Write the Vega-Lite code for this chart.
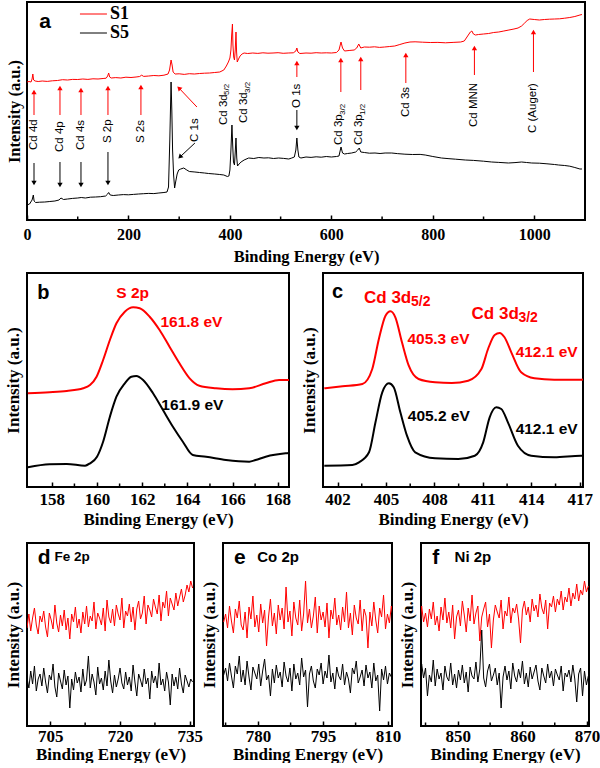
{
"$schema": "https://vega.github.io/schema/vega-lite/v6.json",
"background": "white",
"padding": {"left": 3, "top": 1, "right": 0, "bottom": 0},
"spacing": 6,
"config": {
  "view": {"stroke": "black", "strokeWidth": 2},
  "axis": {"grid": false, "domain": false, "labelFont": "Liberation Serif", "labelFontWeight": "bold", "labelFontSize": 17, "labelColor": "black", "titleFont": "Liberation Serif", "titleFontWeight": "bold", "titleFontSize": 17, "titleColor": "black", "tickColor": "black", "tickWidth": 1.5, "tickSize": -5, "labelFlush": false, "labelOverlap": false, "format": "d"},
  "axisY": {"labels": false, "ticks": false, "titlePadding": 5},
  "text": {"font": "Liberation Sans"},
  "title": {"fontSize": 1, "offset": 7}
},
"datasets": {
"aR": [{"x":0,"y":138},{"x":4,"y":138.5},{"x":8,"y":138},{"x":10,"y":141},{"x":11.5,"y":146},{"x":13,"y":140},{"x":16,"y":139},{"x":22,"y":138.5},{"x":30,"y":139},{"x":40,"y":138.6},{"x":50,"y":139.2},{"x":60,"y":139.5},{"x":70,"y":140.3},{"x":80,"y":140},{"x":90,"y":140.6},{"x":100,"y":140.5},{"x":110,"y":141},{"x":120,"y":140.6},{"x":130,"y":141.2},{"x":140,"y":141},{"x":150,"y":141.5},{"x":156,"y":141.8},{"x":159,"y":144},{"x":161,"y":147},{"x":163,"y":143},{"x":166,"y":142},{"x":175,"y":142.4},{"x":185,"y":142},{"x":195,"y":142.8},{"x":205,"y":142.5},{"x":215,"y":143},{"x":222,"y":143.5},{"x":226,"y":144.8},{"x":230,"y":143.6},{"x":240,"y":144},{"x":250,"y":144.5},{"x":260,"y":144.2},{"x":270,"y":144.8},{"x":278,"y":146},{"x":281,"y":150},{"x":284,"y":160},{"x":286,"y":155},{"x":288,"y":148},{"x":292,"y":146},{"x":300,"y":146.2},{"x":310,"y":145.6},{"x":320,"y":146.3},{"x":330,"y":146},{"x":340,"y":146.5},{"x":350,"y":146.8},{"x":360,"y":147},{"x":370,"y":147.5},{"x":380,"y":148},{"x":388,"y":150},{"x":393,"y":154},{"x":397,"y":158},{"x":400,"y":162},{"x":402,"y":170},{"x":403.5,"y":185},{"x":405,"y":196},{"x":406,"y":175},{"x":407.5,"y":163},{"x":409,"y":160},{"x":410.5,"y":170},{"x":412,"y":188},{"x":413.2,"y":168},{"x":414.5,"y":158},{"x":417,"y":161},{"x":420,"y":164},{"x":424,"y":166},{"x":428,"y":167},{"x":435,"y":166.5},{"x":445,"y":167},{"x":455,"y":166.6},{"x":465,"y":167.2},{"x":475,"y":166.8},{"x":485,"y":167},{"x":495,"y":167.3},{"x":505,"y":166.7},{"x":515,"y":167},{"x":525,"y":167.2},{"x":530,"y":169},{"x":532,"y":172},{"x":534,"y":168},{"x":538,"y":166.5},{"x":550,"y":167},{"x":560,"y":166.8},{"x":570,"y":167.3},{"x":580,"y":167},{"x":590,"y":167.2},{"x":600,"y":167},{"x":610,"y":167.5},{"x":615,"y":170},{"x":619,"y":178},{"x":622,"y":172},{"x":626,"y":169},{"x":635,"y":169.5},{"x":645,"y":170},{"x":650,"y":172},{"x":654,"y":176},{"x":658,"y":172},{"x":665,"y":173},{"x":675,"y":172.8},{"x":685,"y":173.2},{"x":695,"y":172.6},{"x":705,"y":173},{"x":715,"y":173.5},{"x":725,"y":174},{"x":735,"y":175.5},{"x":745,"y":177},{"x":755,"y":178},{"x":765,"y":178.2},{"x":780,"y":177.8},{"x":795,"y":177.5},{"x":810,"y":177.6},{"x":825,"y":177.2},{"x":840,"y":177.6},{"x":855,"y":178},{"x":862,"y":179},{"x":866,"y":182},{"x":870,"y":185},{"x":874,"y":188},{"x":877,"y":189},{"x":880,"y":186},{"x":884,"y":185},{"x":890,"y":185.5},{"x":900,"y":186},{"x":910,"y":186.5},{"x":920,"y":187.5},{"x":930,"y":188},{"x":940,"y":189},{"x":950,"y":190},{"x":960,"y":191},{"x":968,"y":192},{"x":975,"y":194},{"x":981,"y":197},{"x":986,"y":199.5},{"x":991,"y":201},{"x":1000,"y":200.5},{"x":1010,"y":200},{"x":1020,"y":200.5},{"x":1030,"y":200.8},{"x":1040,"y":201},{"x":1050,"y":201.2},{"x":1060,"y":201.8},{"x":1070,"y":202.5},{"x":1080,"y":203.5},{"x":1090,"y":205},{"x":1094,"y":205.5}],
"aK": [{"x":0,"y":15},{"x":5,"y":16},{"x":10,"y":20},{"x":12.5,"y":25},{"x":14,"y":19},{"x":17,"y":17.5},{"x":25,"y":17.8},{"x":35,"y":18},{"x":45,"y":18.5},{"x":55,"y":19},{"x":63,"y":20},{"x":67,"y":22},{"x":72,"y":20.5},{"x":80,"y":21},{"x":90,"y":21.6},{"x":100,"y":22},{"x":107,"y":22.5},{"x":115,"y":22},{"x":125,"y":22.8},{"x":135,"y":23},{"x":145,"y":23.3},{"x":155,"y":24},{"x":159,"y":26},{"x":161,"y":27.5},{"x":164,"y":25},{"x":170,"y":24.5},{"x":180,"y":25},{"x":190,"y":25.4},{"x":200,"y":25.2},{"x":210,"y":25.6},{"x":220,"y":26},{"x":230,"y":26.3},{"x":240,"y":26.6},{"x":250,"y":26.4},{"x":260,"y":27},{"x":270,"y":27.5},{"x":276,"y":28},{"x":279,"y":33},{"x":281.5,"y":80},{"x":284,"y":138},{"x":285.5,"y":110},{"x":287,"y":70},{"x":289,"y":45},{"x":291,"y":32},{"x":293,"y":38},{"x":296,"y":46},{"x":299,"y":50},{"x":303,"y":51},{"x":309,"y":52},{"x":315,"y":50},{"x":320,"y":48.5},{"x":331,"y":48},{"x":340,"y":47.5},{"x":350,"y":47},{"x":358,"y":46.5},{"x":370,"y":46},{"x":380,"y":45.5},{"x":388,"y":45},{"x":395,"y":43.5},{"x":398,"y":44},{"x":400,"y":50},{"x":402,"y":70},{"x":404,"y":95},{"x":405.5,"y":75},{"x":407,"y":58},{"x":409,"y":55},{"x":410.5,"y":68},{"x":412,"y":82},{"x":413.5,"y":62},{"x":415,"y":54},{"x":418,"y":56},{"x":422,"y":58},{"x":428,"y":60},{"x":437,"y":62},{"x":447,"y":61.5},{"x":457,"y":62.5},{"x":467,"y":62},{"x":476,"y":62.2},{"x":486,"y":61.5},{"x":496,"y":62},{"x":506,"y":61.6},{"x":516,"y":61},{"x":522,"y":62},{"x":527,"y":63},{"x":530,"y":70},{"x":532,"y":82},{"x":534,"y":70},{"x":536,"y":63},{"x":540,"y":62},{"x":550,"y":63},{"x":560,"y":62.6},{"x":570,"y":63.2},{"x":580,"y":62.8},{"x":590,"y":63.5},{"x":600,"y":63},{"x":610,"y":63.5},{"x":615,"y":64},{"x":619,"y":73},{"x":622,"y":67},{"x":626,"y":66},{"x":632,"y":66.5},{"x":640,"y":67},{"x":648,"y":68},{"x":652,"y":70},{"x":655,"y":72},{"x":658,"y":68},{"x":665,"y":67.5},{"x":675,"y":66.8},{"x":686,"y":67},{"x":696,"y":66.5},{"x":706,"y":67},{"x":719,"y":67},{"x":730,"y":66.4},{"x":745,"y":65.8},{"x":760,"y":65.5},{"x":775,"y":65.6},{"x":785,"y":65},{"x":800,"y":63.5},{"x":817,"y":62},{"x":830,"y":61.4},{"x":845,"y":60.8},{"x":864,"y":60},{"x":880,"y":59.6},{"x":900,"y":58.8},{"x":916,"y":58},{"x":930,"y":57.6},{"x":949,"y":57},{"x":962,"y":57.4},{"x":975,"y":58},{"x":985,"y":57.5},{"x":995,"y":57},{"x":1010,"y":56.8},{"x":1025,"y":56.2},{"x":1040,"y":55.5},{"x":1048,"y":55},{"x":1060,"y":54.5},{"x":1070,"y":53.8},{"x":1080,"y":52.5},{"x":1090,"y":51},{"x":1094,"y":51}],
"aArr": [
{"x":13.8,"x2":13.8,"y":105,"y2":128,"s":"S1"},{"x":65,"x2":65,"y":105,"y2":132,"s":"S1"},{"x":106.4,"x2":106.4,"y":105,"y2":130,"s":"S1"},{"x":159.6,"x2":159.6,"y":105,"y2":132,"s":"S1"},{"x":224.6,"x2":224.6,"y":105,"y2":133,"s":"S1"},{"x":532,"x2":532,"y":143,"y2":157,"s":"S1"},{"x":618.7,"x2":618.7,"y":128,"y2":160,"s":"S1"},{"x":658,"x2":658,"y":130,"y2":161,"s":"S1"},{"x":746.8,"x2":746.8,"y":137,"y2":165,"s":"S1"},{"x":882,"x2":882,"y":145,"y2":172,"s":"S1"},{"x":998.4,"x2":998.4,"y":148,"y2":188,"s":"S1"},
{"x":13.8,"x2":13.8,"y":57,"y2":37,"s":"S5"},{"x":65,"x2":65,"y":58,"y2":35,"s":"S5"},{"x":106.4,"x2":106.4,"y":58,"y2":35,"s":"S5"},{"x":159.6,"x2":159.6,"y":68,"y2":37,"s":"S5"},{"x":532,"x2":532,"y":110,"y2":92,"s":"S5"},
{"x":335,"x2":299.5,"y":113,"y2":132,"s":"S1"},{"x":331,"x2":301.5,"y":77,"y2":63,"s":"S5"}],
"aLab": [{"x":13.8,"y":70,"t":"Cd 4d"},{"x":65,"y":68,"t":"Cd 4p"},{"x":106.4,"y":70,"t":"Cd 4s"},{"x":159.6,"y":77,"t":"S 2p"},{"x":224.6,"y":77,"t":"S 2s"},{"x":331,"y":78,"t":"C 1s"},{"x":387.6,"y":95,"t":"Cd 3d"},{"x":427,"y":97,"t":"Cd 3d"},{"x":532,"y":112,"t":"O 1s"},{"x":614.8,"y":75,"t":"Cd 3p"},{"x":654,"y":75,"t":"Cd 3p"},{"x":746.8,"y":103,"t":"Cd 3s"},{"x":882,"y":93,"t":"Cd MNN"},{"x":998.4,"y":87,"t":"C (Auger)"}],
"aSub": [{"x":394.6,"y":125,"t":"5/2"},{"x":435,"y":127,"t":"3/2"},{"x":623,"y":105,"t":"3/2"},{"x":662,"y":105,"t":"1/2"}],
"aLeg": [{"x":104.4,"x2":157.6,"y":206,"s":"S1"},{"x":104.4,"x2":157.6,"y":187,"s":"S5"}],
"aMinor": [{"x":100},{"x":300},{"x":500},{"x":700},{"x":900}],
"bR": [{"x":156.94,"y":93.7},{"x":157.9,"y":94.7},{"x":158.66,"y":96},{"x":159.39,"y":98.7},{"x":159.69,"y":102},{"x":159.98,"y":110.3},{"x":160.27,"y":127},{"x":160.57,"y":147},{"x":160.86,"y":163.7},{"x":161.23,"y":175.3},{"x":161.6,"y":179.7},{"x":161.89,"y":178.7},{"x":162.33,"y":170.3},{"x":162.77,"y":157},{"x":163.21,"y":140.3},{"x":163.65,"y":123.7},{"x":164.1,"y":108.7},{"x":164.53,"y":101.3},{"x":165.27,"y":98.7},{"x":166,"y":97.7},{"x":166.74,"y":98.7},{"x":167.47,"y":103.7},{"x":168.06,"y":107},{"x":168.5,"y":107}],
"bK": [{"x":156.94,"y":19.7},{"x":157.9,"y":22.7},{"x":158.66,"y":23},{"x":159.47,"y":21.3},{"x":159.69,"y":23.7},{"x":160,"y":30.3},{"x":160.27,"y":45.3},{"x":160.57,"y":70.3},{"x":160.86,"y":90.3},{"x":161.23,"y":103.7},{"x":161.52,"y":110.3},{"x":161.74,"y":111},{"x":162.04,"y":107},{"x":162.48,"y":93.7},{"x":162.92,"y":77},{"x":163.36,"y":60.3},{"x":163.8,"y":45.3},{"x":164.24,"y":32},{"x":164.83,"y":30.3},{"x":165.71,"y":27},{"x":166.74,"y":25.3},{"x":167.02,"y":27},{"x":167.47,"y":30.3},{"x":168.35,"y":33.7},{"x":168.5,"y":34}],
"bMinor": [{"x":159},{"x":161},{"x":163},{"x":165},{"x":167}],
"cR": [{"x":401.18,"y":98.7},{"x":402.31,"y":100.7},{"x":403.54,"y":103},{"x":404.15,"y":118},{"x":404.56,"y":148},{"x":404.97,"y":171.3},{"x":405.28,"y":175.7},{"x":405.58,"y":169.7},{"x":405.99,"y":144.7},{"x":406.41,"y":121.3},{"x":407.02,"y":108},{"x":408.04,"y":104.7},{"x":409.07,"y":104},{"x":410.09,"y":106.3},{"x":410.91,"y":118},{"x":411.32,"y":138},{"x":411.73,"y":152},{"x":412.04,"y":154},{"x":412.34,"y":149.7},{"x":412.76,"y":134.7},{"x":413.37,"y":114.7},{"x":414.19,"y":108.7},{"x":415.42,"y":107.3},{"x":417.06,"y":107.3},{"x":417.2,"y":107.5}],
"cK": [{"x":401.18,"y":21.3},{"x":402.92,"y":22},{"x":403.33,"y":24.7},{"x":403.95,"y":34.7},{"x":404.35,"y":64.7},{"x":404.77,"y":94.7},{"x":405.18,"y":103.7},{"x":405.48,"y":99.7},{"x":405.89,"y":74.7},{"x":406.3,"y":51.3},{"x":406.81,"y":34.7},{"x":408.04,"y":28.7},{"x":409.48,"y":28},{"x":410.5,"y":31.3},{"x":411.02,"y":44.7},{"x":411.42,"y":69.7},{"x":411.83,"y":79.7},{"x":412.14,"y":78},{"x":412.55,"y":64.7},{"x":413.17,"y":41.3},{"x":413.99,"y":31.3},{"x":415.42,"y":29.7},{"x":417.06,"y":31.3},{"x":417.2,"y":31.3}],
"cMinor": [{"x":403.5},{"x":406.5},{"x":409.5},{"x":412.5},{"x":415.5}],
"pd": [{"x":700.0,"r":98,"k":48},{"x":700.4,"r":112,"k":38},{"x":700.8,"r":95,"k":55},{"x":701.2,"r":108,"k":42},{"x":701.6,"r":118,"k":60},{"x":702.0,"r":101,"k":35},{"x":702.4,"r":92,"k":47},{"x":702.8,"r":110,"k":52},{"x":703.2,"r":104,"k":40},{"x":703.6,"r":115,"k":58},{"x":704.0,"r":99,"k":44},{"x":704.4,"r":89,"k":33},{"x":704.8,"r":113,"k":51},{"x":705.2,"r":106,"k":46},{"x":705.6,"r":97,"k":62},{"x":706.0,"r":121,"k":39},{"x":706.4,"r":103,"k":29},{"x":706.8,"r":94,"k":53},{"x":707.2,"r":111,"k":45},{"x":707.6,"r":100,"k":37},{"x":708.0,"r":116,"k":56},{"x":708.4,"r":96,"k":41},{"x":708.8,"r":108,"k":50},{"x":709.2,"r":87,"k":18},{"x":709.6,"r":112,"k":47},{"x":710.0,"r":104,"k":36},{"x":710.4,"r":119,"k":54},{"x":710.8,"r":98,"k":43},{"x":711.2,"r":107,"k":49},{"x":711.6,"r":93,"k":34},{"x":712.0,"r":114,"k":57},{"x":712.4,"r":102,"k":40},{"x":712.8,"r":120,"k":46},{"x":713.2,"r":99,"k":70},{"x":713.6,"r":110,"k":38},{"x":714.0,"r":105,"k":52},{"x":714.4,"r":124,"k":44},{"x":714.8,"r":97,"k":31},{"x":715.2,"r":113,"k":59},{"x":715.6,"r":108,"k":42},{"x":716.0,"r":101,"k":48},{"x":716.4,"r":118,"k":36},{"x":716.8,"r":95,"k":55},{"x":717.2,"r":126,"k":40},{"x":717.6,"r":109,"k":66},{"x":718.0,"r":103,"k":45},{"x":718.4,"r":117,"k":33},{"x":718.8,"r":100,"k":51},{"x":719.2,"r":121,"k":39},{"x":719.6,"r":112,"k":47},{"x":720.0,"r":106,"k":58},{"x":720.4,"r":128,"k":43},{"x":720.8,"r":98,"k":37},{"x":721.2,"r":115,"k":54},{"x":721.6,"r":110,"k":41},{"x":722.0,"r":122,"k":49},{"x":722.4,"r":104,"k":35},{"x":722.8,"r":119,"k":61},{"x":723.2,"r":96,"k":44},{"x":723.6,"r":117,"k":30},{"x":724.0,"r":125,"k":52},{"x":724.4,"r":107,"k":46},{"x":724.8,"r":113,"k":39},{"x":725.2,"r":130,"k":57},{"x":725.6,"r":102,"k":42},{"x":726.0,"r":121,"k":48},{"x":726.4,"r":116,"k":27},{"x":726.8,"r":109,"k":55},{"x":727.2,"r":127,"k":43},{"x":727.6,"r":119,"k":50},{"x":728.0,"r":112,"k":38},{"x":728.4,"r":131,"k":63},{"x":728.8,"r":105,"k":41},{"x":729.2,"r":124,"k":47},{"x":729.6,"r":118,"k":35},{"x":730.0,"r":135,"k":54},{"x":730.4,"r":110,"k":44},{"x":730.8,"r":128,"k":21},{"x":731.2,"r":122,"k":52},{"x":731.6,"r":116,"k":40},{"x":732.0,"r":133,"k":49},{"x":732.4,"r":120,"k":37},{"x":732.8,"r":129,"k":58},{"x":733.2,"r":137,"k":42},{"x":733.6,"r":124,"k":33},{"x":734.0,"r":131,"k":51},{"x":734.4,"r":141,"k":45},{"x":734.8,"r":134,"k":39},{"x":735.2,"r":145,"k":47},{"x":735.6,"r":138,"k":44}],
"pdMinor": [{"x":712.5},{"x":727.5}],
"pe": [{"x":772.05,"r":104,"k":51},{"x":772.5,"r":112,"k":58},{"x":772.95,"r":98,"k":45},{"x":773.4,"r":120,"k":63},{"x":773.85,"r":105,"k":50},{"x":774.3,"r":93,"k":38},{"x":774.75,"r":117,"k":60},{"x":775.2,"r":108,"k":52},{"x":775.65,"r":125,"k":70},{"x":776.1,"r":101,"k":44},{"x":776.55,"r":96,"k":56},{"x":777.0,"r":114,"k":41},{"x":777.45,"r":88,"k":65},{"x":777.9,"r":119,"k":49},{"x":778.35,"r":107,"k":36},{"x":778.8,"r":130,"k":59},{"x":779.25,"r":99,"k":53},{"x":779.7,"r":111,"k":47},{"x":780.15,"r":94,"k":62},{"x":780.6,"r":122,"k":40},{"x":781.05,"r":103,"k":55},{"x":781.5,"r":116,"k":67},{"x":781.95,"r":80,"k":46},{"x":782.4,"r":109,"k":51},{"x":782.85,"r":127,"k":30},{"x":783.3,"r":100,"k":57},{"x":783.75,"r":113,"k":43},{"x":784.2,"r":92,"k":61},{"x":784.65,"r":121,"k":48},{"x":785.1,"r":106,"k":54},{"x":785.55,"r":118,"k":39},{"x":786.0,"r":97,"k":64},{"x":786.45,"r":139,"k":50},{"x":786.9,"r":104,"k":44},{"x":787.35,"r":115,"k":58},{"x":787.8,"r":90,"k":35},{"x":788.25,"r":124,"k":62},{"x":788.7,"r":108,"k":47},{"x":789.15,"r":101,"k":53},{"x":789.6,"r":126,"k":41},{"x":790.05,"r":95,"k":68},{"x":790.5,"r":112,"k":49},{"x":790.95,"r":145,"k":56},{"x":791.4,"r":103,"k":19},{"x":791.85,"r":117,"k":52},{"x":792.3,"r":98,"k":60},{"x":792.75,"r":110,"k":45},{"x":793.2,"r":129,"k":38},{"x":793.65,"r":93,"k":57},{"x":794.1,"r":120,"k":51},{"x":794.55,"r":106,"k":63},{"x":795.0,"r":114,"k":42},{"x":795.45,"r":99,"k":55},{"x":795.9,"r":123,"k":48},{"x":796.35,"r":88,"k":71},{"x":796.8,"r":116,"k":44},{"x":797.25,"r":107,"k":53},{"x":797.7,"r":128,"k":37},{"x":798.15,"r":101,"k":59},{"x":798.6,"r":111,"k":50},{"x":799.05,"r":96,"k":46},{"x":799.5,"r":119,"k":62},{"x":799.95,"r":104,"k":41},{"x":800.4,"r":134,"k":54},{"x":800.85,"r":98,"k":47},{"x":801.3,"r":113,"k":33},{"x":801.75,"r":91,"k":58},{"x":802.2,"r":121,"k":52},{"x":802.65,"r":108,"k":65},{"x":803.1,"r":102,"k":43},{"x":803.55,"r":126,"k":49},{"x":804.0,"r":95,"k":56},{"x":804.45,"r":117,"k":40},{"x":804.9,"r":110,"k":61},{"x":805.35,"r":78,"k":48},{"x":805.8,"r":114,"k":54},{"x":806.25,"r":100,"k":38},{"x":806.7,"r":124,"k":63},{"x":807.15,"r":106,"k":45},{"x":807.6,"r":93,"k":51},{"x":808.05,"r":118,"k":15},{"x":808.5,"r":109,"k":57},{"x":808.95,"r":131,"k":46},{"x":809.4,"r":97,"k":60},{"x":809.85,"r":112,"k":42},{"x":810.3,"r":103,"k":53},{"x":810.75,"r":120,"k":49},{"x":811.2,"r":107,"k":50}],
"peMinor": [{"x":772.5},{"x":787.5},{"x":802.5}],
"pf": [{"x":843.8,"r":108,"k":55},{"x":844.1,"r":96,"k":42},{"x":844.4,"r":120,"k":62},{"x":844.7,"r":104,"k":48},{"x":845.0,"r":113,"k":58},{"x":845.3,"r":99,"k":30},{"x":845.6,"r":117,"k":51},{"x":845.9,"r":107,"k":44},{"x":846.2,"r":124,"k":66},{"x":846.5,"r":101,"k":40},{"x":846.8,"r":110,"k":57},{"x":847.1,"r":95,"k":47},{"x":847.4,"r":119,"k":53},{"x":847.7,"r":106,"k":36},{"x":848.0,"r":128,"k":60},{"x":848.3,"r":103,"k":49},{"x":848.6,"r":114,"k":45},{"x":848.9,"r":98,"k":63},{"x":849.2,"r":121,"k":41},{"x":849.5,"r":87,"k":52},{"x":849.8,"r":109,"k":38},{"x":850.1,"r":116,"k":56},{"x":850.4,"r":100,"k":46},{"x":850.7,"r":125,"k":61},{"x":851.0,"r":111,"k":43},{"x":851.3,"r":94,"k":54},{"x":851.6,"r":118,"k":34},{"x":851.9,"r":105,"k":59},{"x":852.2,"r":131,"k":50},{"x":852.5,"r":102,"k":47},{"x":852.8,"r":113,"k":64},{"x":853.1,"r":120,"k":44},{"x":853.4,"r":85,"k":57},{"x":853.7,"r":109,"k":96},{"x":854.0,"r":117,"k":48},{"x":854.3,"r":124,"k":39},{"x":854.6,"r":99,"k":55},{"x":854.9,"r":112,"k":62},{"x":855.2,"r":78,"k":45},{"x":855.5,"r":106,"k":51},{"x":855.8,"r":121,"k":58},{"x":856.1,"r":114,"k":41},{"x":856.4,"r":108,"k":53},{"x":856.7,"r":126,"k":18},{"x":857.0,"r":97,"k":49},{"x":857.3,"r":115,"k":60},{"x":857.6,"r":110,"k":46},{"x":857.9,"r":129,"k":55},{"x":858.2,"r":103,"k":37},{"x":858.5,"r":118,"k":63},{"x":858.8,"r":113,"k":50},{"x":859.1,"r":122,"k":44},{"x":859.4,"r":107,"k":57},{"x":859.7,"r":83,"k":48},{"x":860.0,"r":116,"k":65},{"x":860.3,"r":125,"k":42},{"x":860.6,"r":111,"k":53},{"x":860.9,"r":119,"k":39},{"x":861.2,"r":104,"k":59},{"x":861.5,"r":127,"k":47},{"x":861.8,"r":115,"k":54},{"x":862.1,"r":121,"k":61},{"x":862.4,"r":109,"k":45},{"x":862.7,"r":132,"k":36},{"x":863.0,"r":118,"k":58},{"x":863.3,"r":112,"k":50},{"x":863.6,"r":126,"k":43},{"x":863.9,"r":97,"k":62},{"x":864.2,"r":123,"k":48},{"x":864.5,"r":119,"k":55},{"x":864.8,"r":130,"k":40},{"x":865.1,"r":114,"k":57},{"x":865.4,"r":127,"k":51},{"x":865.7,"r":121,"k":46},{"x":866.0,"r":135,"k":60},{"x":866.3,"r":116,"k":35},{"x":866.6,"r":129,"k":53},{"x":866.9,"r":124,"k":49},{"x":867.2,"r":138,"k":56},{"x":867.5,"r":120,"k":44},{"x":867.8,"r":133,"k":61},{"x":868.1,"r":127,"k":47},{"x":868.4,"r":142,"k":24},{"x":868.7,"r":125,"k":52},{"x":869.0,"r":136,"k":58},{"x":869.3,"r":131,"k":30},{"x":869.6,"r":145,"k":55},{"x":869.9,"r":134,"k":41},{"x":870.2,"r":140,"k":50}],
"pfMinor": [{"x":845},{"x":855},{"x":865}]
},
"vconcat": [
{
  "width": 558, "height": 218,
  "layer": [
    {"data": {"name": "aR"}, "mark": {"type": "line", "color": "#ff0000", "strokeWidth": 1},
     "encoding": {
       "x": {"field": "x", "type": "quantitative", "scale": {"domain": [0, 1100], "nice": false, "zero": false},
             "axis": {"title": "Binding Energy (eV)", "values": [0,200,400,600,800,1000], "labelPadding": 11, "titlePadding": 6, "labelFontSize": 16, "titleFontSize": 16.5}},
       "y": {"field": "y", "type": "quantitative", "scale": {"domain": [0, 218], "nice": false, "zero": false}, "axis": {"title": "Intensity (a.u.)", "titleFontSize": 16.5}}}},
    {"data": {"name": "aK"}, "mark": {"type": "line", "color": "black", "strokeWidth": 1},
     "encoding": {"x": {"field": "x", "type": "quantitative"}, "y": {"field": "y", "type": "quantitative"}}},
    {"data": {"name": "aMinor"}, "mark": {"type": "rule", "strokeWidth": 1.5, "color": "black"},
     "encoding": {"x": {"field": "x", "type": "quantitative"}, "y": {"datum": 0}, "y2": {"datum": 3.5}}},
    {"data": {"name": "aArr"}, "mark": {"type": "rule", "strokeWidth": 1},
     "encoding": {"x": {"field": "x", "type": "quantitative"}, "x2": {"field": "x2"}, "y": {"field": "y", "type": "quantitative"}, "y2": {"field": "y2"},
                  "color": {"field": "s", "type": "nominal", "scale": {"domain": ["S1", "S5"], "range": ["#ff0000", "black"]}, "legend": null}}},
    {"data": {"name": "aArr"}, "transform": [{"filter": "datum.s === 'S1' && datum.x === datum.x2"}],
     "mark": {"type": "point", "shape": "triangle-up", "filled": true, "size": 28, "color": "#ff0000", "opacity": 1},
     "encoding": {"x": {"field": "x", "type": "quantitative"}, "y": {"field": "y2", "type": "quantitative"}}},
    {"data": {"name": "aArr"}, "transform": [{"filter": "datum.s === 'S5' && datum.x === datum.x2"}],
     "mark": {"type": "point", "shape": "triangle-down", "filled": true, "size": 28, "color": "black", "opacity": 1},
     "encoding": {"x": {"field": "x", "type": "quantitative"}, "y": {"field": "y2", "type": "quantitative"}}},
    {"data": {"name": "aArr"}, "transform": [{"filter": "datum.s === 'S1' && datum.x !== datum.x2"}],
     "mark": {"type": "point", "shape": "triangle-up", "filled": true, "size": 28, "color": "#ff0000", "opacity": 1, "angle": 315},
     "encoding": {"x": {"field": "x2", "type": "quantitative"}, "y": {"field": "y2", "type": "quantitative"}}},
    {"data": {"name": "aArr"}, "transform": [{"filter": "datum.s === 'S5' && datum.x !== datum.x2"}],
     "mark": {"type": "point", "shape": "triangle-up", "filled": true, "size": 28, "color": "black", "opacity": 1, "angle": 225},
     "encoding": {"x": {"field": "x2", "type": "quantitative"}, "y": {"field": "y2", "type": "quantitative"}}},
    {"data": {"name": "aLab"}, "mark": {"type": "text", "angle": 270, "align": "left", "baseline": "middle", "fontSize": 11.5, "color": "black"},
     "encoding": {"x": {"field": "x", "type": "quantitative"}, "y": {"field": "y", "type": "quantitative"}, "text": {"field": "t"}}},
    {"data": {"name": "aSub"}, "mark": {"type": "text", "angle": 270, "align": "left", "baseline": "middle", "fontSize": 8, "color": "black"},
     "encoding": {"x": {"field": "x", "type": "quantitative"}, "y": {"field": "y", "type": "quantitative"}, "text": {"field": "t"}}},
    {"data": {"name": "aLeg"}, "mark": {"type": "rule", "strokeWidth": 1},
     "encoding": {"x": {"field": "x", "type": "quantitative"}, "x2": {"field": "x2"}, "y": {"field": "y", "type": "quantitative"},
                  "color": {"field": "s", "type": "nominal", "scale": {"domain": ["S1", "S5"], "range": ["#ff0000", "black"]}, "legend": null}}},
    {"data": {"name": "aLeg"}, "mark": {"type": "text", "align": "left", "baseline": "middle", "dx": 3, "font": "Liberation Serif", "fontWeight": "bold", "fontSize": 18, "color": "black"},
     "encoding": {"x": {"field": "x2", "type": "quantitative"}, "y": {"field": "y", "type": "quantitative"}, "text": {"field": "s"}}},
    {"data": {"values": [{"x": 35.5, "y": 198, "t": "a"}]}, "mark": {"type": "text", "align": "center", "baseline": "middle", "fontWeight": "bold", "fontSize": 21, "color": "black"},
     "encoding": {"x": {"field": "x", "type": "quantitative"}, "y": {"field": "y", "type": "quantitative"}, "text": {"field": "t"}}}
  ]
},
{
  "hconcat": [
    {
      "width": 262, "height": 214,
      "layer": [
        {"data": {"name": "bR"}, "mark": {"type": "line", "color": "#ff0000", "strokeWidth": 2, "interpolate": "monotone"},
         "encoding": {
           "x": {"field": "x", "type": "quantitative", "scale": {"domain": [156.9, 168.5], "nice": false, "zero": false},
                 "axis": {"title": "Binding Energy (eV)", "values": [158,160,162,164,166,168], "labelPadding": 9, "titlePadding": 4}},
           "y": {"field": "y", "type": "quantitative", "scale": {"domain": [0, 214], "nice": false, "zero": false}, "axis": {"title": "Intensity (a.u.)"}}}},
        {"data": {"name": "bK"}, "mark": {"type": "line", "color": "black", "strokeWidth": 2, "interpolate": "monotone"},
         "encoding": {"x": {"field": "x", "type": "quantitative"}, "y": {"field": "y", "type": "quantitative"}}},
        {"data": {"name": "bMinor"}, "mark": {"type": "rule", "strokeWidth": 1.5, "color": "black"},
         "encoding": {"x": {"field": "x", "type": "quantitative"}, "y": {"datum": 0}, "y2": {"datum": 3.5}}},
        {"data": {"values": [{"x": 157.62, "y": 194, "t": "b"}]}, "mark": {"type": "text", "fontWeight": "bold", "fontSize": 20, "color": "black"},
         "encoding": {"x": {"field": "x", "type": "quantitative"}, "y": {"field": "y", "type": "quantitative"}, "text": {"field": "t"}}},
        {"data": {"values": [{"x": 161.58, "y": 194, "t": "S 2p"}, {"x": 164.18, "y": 165, "t": "161.8 eV"}]}, "mark": {"type": "text", "fontWeight": "bold", "fontSize": 15.5, "color": "#ff0000"},
         "encoding": {"x": {"field": "x", "type": "quantitative"}, "y": {"field": "y", "type": "quantitative"}, "text": {"field": "t"}}},
        {"data": {"values": [{"x": 164.22, "y": 82, "t": "161.9 eV"}]}, "mark": {"type": "text", "fontWeight": "bold", "fontSize": 15.5, "color": "black"},
         "encoding": {"x": {"field": "x", "type": "quantitative"}, "y": {"field": "y", "type": "quantitative"}, "text": {"field": "t"}}}
      ]
    },
    {
      "width": 260, "height": 214,
      "layer": [
        {"data": {"name": "cR"}, "mark": {"type": "line", "color": "#ff0000", "strokeWidth": 2, "interpolate": "monotone"},
         "encoding": {
           "x": {"field": "x", "type": "quantitative", "scale": {"domain": [401.1, 417.2], "nice": false, "zero": false},
                 "axis": {"title": "Binding Energy (eV)", "values": [402,405,408,411,414,417], "labelPadding": 9, "titlePadding": 4}},
           "y": {"field": "y", "type": "quantitative", "scale": {"domain": [0, 214], "nice": false, "zero": false}, "axis": {"title": "Intensity (a.u.)"}}}},
        {"data": {"name": "cK"}, "mark": {"type": "line", "color": "black", "strokeWidth": 2, "interpolate": "monotone"},
         "encoding": {"x": {"field": "x", "type": "quantitative"}, "y": {"field": "y", "type": "quantitative"}}},
        {"data": {"name": "cMinor"}, "mark": {"type": "rule", "strokeWidth": 1.5, "color": "black"},
         "encoding": {"x": {"field": "x", "type": "quantitative"}, "y": {"datum": 0}, "y2": {"datum": 3.5}}},
        {"data": {"values": [{"x": 402.0, "y": 195, "t": "c"}]}, "mark": {"type": "text", "fontWeight": "bold", "fontSize": 20, "color": "black"},
         "encoding": {"x": {"field": "x", "type": "quantitative"}, "y": {"field": "y", "type": "quantitative"}, "text": {"field": "t"}}},
        {"data": {"values": [{"x": 403.64, "y": 189, "t": "Cd 3d"}, {"x": 410.3, "y": 173, "t": "Cd 3d"}]}, "mark": {"type": "text", "align": "left", "fontWeight": "bold", "fontSize": 17, "color": "#ff0000"},
         "encoding": {"x": {"field": "x", "type": "quantitative"}, "y": {"field": "y", "type": "quantitative"}, "text": {"field": "t"}}},
        {"data": {"values": [{"x": 406.55, "y": 185.5, "t": "5/2"}, {"x": 413.2, "y": 169, "t": "3/2"}]}, "mark": {"type": "text", "align": "left", "fontWeight": "bold", "fontSize": 14, "color": "#ff0000"},
         "encoding": {"x": {"field": "x", "type": "quantitative"}, "y": {"field": "y", "type": "quantitative"}, "text": {"field": "t"}}},
        {"data": {"values": [{"x": 408.25, "y": 148, "t": "405.3 eV"}, {"x": 414.95, "y": 135, "t": "412.1 eV"}]}, "mark": {"type": "text", "fontWeight": "bold", "fontSize": 15.5, "color": "#ff0000"},
         "encoding": {"x": {"field": "x", "type": "quantitative"}, "y": {"field": "y", "type": "quantitative"}, "text": {"field": "t"}}},
        {"data": {"values": [{"x": 408.27, "y": 71, "t": "405.2 eV"}, {"x": 414.95, "y": 58, "t": "412.1 eV"}]}, "mark": {"type": "text", "fontWeight": "bold", "fontSize": 15.5, "color": "black"},
         "encoding": {"x": {"field": "x", "type": "quantitative"}, "y": {"field": "y", "type": "quantitative"}, "text": {"field": "t"}}}
      ]
    }
  ],
  "spacing": 34, "bounds": "flush"
},
{
  "hconcat": [
    {
      "title": " ",
      "width": 167, "height": 183,
      "layer": [
        {"data": {"name": "pd"}, "mark": {"type": "line", "color": "#ff0000", "strokeWidth": 1, "clip": true},
         "encoding": {
           "x": {"field": "x", "type": "quantitative", "scale": {"domain": [700, 735.9], "nice": false, "zero": false},
                 "axis": {"title": "Binding Energy (eV)", "values": [705,720,735], "labelPadding": 7, "titlePadding": 2}},
           "y": {"field": "r", "type": "quantitative", "scale": {"domain": [0, 183], "nice": false, "zero": false}, "axis": {"title": "Intensity (a.u.)"}}}},
        {"data": {"name": "pd"}, "mark": {"type": "line", "color": "black", "strokeWidth": 1, "clip": true},
         "encoding": {"x": {"field": "x", "type": "quantitative"}, "y": {"field": "k", "type": "quantitative"}}},
        {"data": {"name": "pdMinor"}, "mark": {"type": "rule", "strokeWidth": 1.5, "color": "black"},
         "encoding": {"x": {"field": "x", "type": "quantitative"}, "y": {"datum": 0}, "y2": {"datum": 3.5}}},
        {"data": {"values": [{"x": 703.7, "y": 168, "t": "d"}]}, "mark": {"type": "text", "fontWeight": "bold", "fontSize": 21, "color": "black"},
         "encoding": {"x": {"field": "x", "type": "quantitative"}, "y": {"field": "y", "type": "quantitative"}, "text": {"field": "t"}}},
        {"data": {"values": [{"x": 705.9, "y": 169, "t": "Fe 2p"}]}, "mark": {"type": "text", "align": "left", "fontWeight": "bold", "fontSize": 13.5, "color": "black"},
         "encoding": {"x": {"field": "x", "type": "quantitative"}, "y": {"field": "y", "type": "quantitative"}, "text": {"field": "t"}}}
      ]
    },
    {
      "title": " ",
      "width": 169, "height": 183,
      "layer": [
        {"data": {"name": "pe"}, "mark": {"type": "line", "color": "#ff0000", "strokeWidth": 1, "clip": true},
         "encoding": {
           "x": {"field": "x", "type": "quantitative", "scale": {"domain": [771.9, 810.9], "nice": false, "zero": false},
                 "axis": {"title": "Binding Energy (eV)", "values": [780,795,810], "labelPadding": 7, "titlePadding": 2}},
           "y": {"field": "r", "type": "quantitative", "scale": {"domain": [0, 183], "nice": false, "zero": false}, "axis": {"title": "Intensity (a.u.)"}}}},
        {"data": {"name": "pe"}, "mark": {"type": "line", "color": "black", "strokeWidth": 1, "clip": true},
         "encoding": {"x": {"field": "x", "type": "quantitative"}, "y": {"field": "k", "type": "quantitative"}}},
        {"data": {"name": "peMinor"}, "mark": {"type": "rule", "strokeWidth": 1.5, "color": "black"},
         "encoding": {"x": {"field": "x", "type": "quantitative"}, "y": {"datum": 0}, "y2": {"datum": 3.5}}},
        {"data": {"values": [{"x": 775.8, "y": 168, "t": "e"}]}, "mark": {"type": "text", "fontWeight": "bold", "fontSize": 21, "color": "black"},
         "encoding": {"x": {"field": "x", "type": "quantitative"}, "y": {"field": "y", "type": "quantitative"}, "text": {"field": "t"}}},
        {"data": {"values": [{"x": 779.8, "y": 169, "t": "Co 2p"}]}, "mark": {"type": "text", "align": "left", "fontWeight": "bold", "fontSize": 15, "color": "black"},
         "encoding": {"x": {"field": "x", "type": "quantitative"}, "y": {"field": "y", "type": "quantitative"}, "text": {"field": "t"}}}
      ]
    },
    {
      "title": " ",
      "width": 168, "height": 183,
      "layer": [
        {"data": {"name": "pf"}, "mark": {"type": "line", "color": "#ff0000", "strokeWidth": 1, "clip": true},
         "encoding": {
           "x": {"field": "x", "type": "quantitative", "scale": {"domain": [844.3, 870.3], "nice": false, "zero": false},
                 "axis": {"title": "Binding Energy (eV)", "values": [850,860,870], "labelPadding": 7, "titlePadding": 2}},
           "y": {"field": "r", "type": "quantitative", "scale": {"domain": [0, 183], "nice": false, "zero": false}, "axis": {"title": "Intensity (a.u.)"}}}},
        {"data": {"name": "pf"}, "mark": {"type": "line", "color": "black", "strokeWidth": 1, "clip": true},
         "encoding": {"x": {"field": "x", "type": "quantitative"}, "y": {"field": "k", "type": "quantitative"}}},
        {"data": {"name": "pfMinor"}, "mark": {"type": "rule", "strokeWidth": 1.5, "color": "black"},
         "encoding": {"x": {"field": "x", "type": "quantitative"}, "y": {"datum": 0}, "y2": {"datum": 3.5}}},
        {"data": {"values": [{"x": 846.6, "y": 168, "t": "f"}]}, "mark": {"type": "text", "fontWeight": "bold", "fontSize": 21, "color": "black"},
         "encoding": {"x": {"field": "x", "type": "quantitative"}, "y": {"field": "y", "type": "quantitative"}, "text": {"field": "t"}}},
        {"data": {"values": [{"x": 849.5, "y": 169, "t": "Ni 2p"}]}, "mark": {"type": "text", "align": "left", "fontWeight": "bold", "fontSize": 15, "color": "black"},
         "encoding": {"x": {"field": "x", "type": "quantitative"}, "y": {"field": "y", "type": "quantitative"}, "text": {"field": "t"}}}
      ]
    }
  ],
  "spacing": 29, "bounds": "flush"
}
]
}
